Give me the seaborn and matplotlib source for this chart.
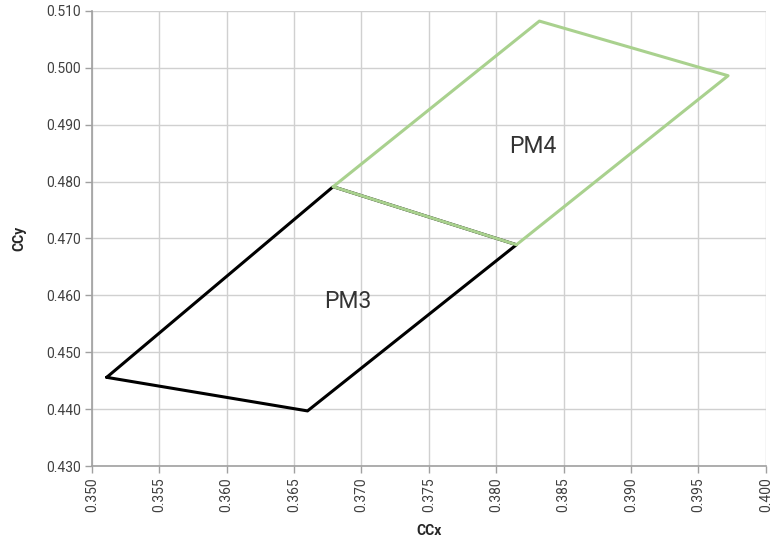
import pandas as pd
import matplotlib.pyplot as plt
import seaborn as sns

# Polygon corner points (closed loops)
pm3_x = [0.3511, 0.3660, 0.3815, 0.3679, 0.3511]
pm3_y = [0.4456, 0.4397, 0.4689, 0.4791, 0.4456]
pm4_x = [0.3679, 0.3832, 0.3972, 0.3815, 0.3679]
pm4_y = [0.4791, 0.5082, 0.4986, 0.4689, 0.4791]

x_ticks = [0.350, 0.355, 0.360, 0.365, 0.370, 0.375, 0.380, 0.385, 0.390, 0.395, 0.400]
y_ticks = [0.430, 0.440, 0.450, 0.460, 0.470, 0.480, 0.490, 0.500, 0.510]

sns.set_style("white")
plt.rcParams["font.family"] = ["Roboto", "DejaVu Sans"]

fig, ax = plt.subplots(figsize=(7.72, 5.42), dpi=100)
fig.subplots_adjust(left=0.119, right=0.992, top=0.98, bottom=0.14)

pm3 = pd.DataFrame({"x": pm3_x, "y": pm3_y})
pm4 = pd.DataFrame({"x": pm4_x, "y": pm4_y})

sns.lineplot(data=pm3, x="x", y="y", sort=False, estimator=None, color="black", linewidth=2.2, ax=ax)
sns.lineplot(data=pm4, x="x", y="y", sort=False, estimator=None, color="#a9d18e", linewidth=2.2, ax=ax)

ax.text(0.3827, 0.4861, "PM4", fontsize=16.5, ha="center", va="center", color="#333333")
ax.text(0.3690, 0.4590, "PM3", fontsize=16.5, ha="center", va="center", color="#333333")

ax.set_xlim(0.350, 0.400)
ax.set_ylim(0.430, 0.510)
ax.set_xticks(x_ticks)
ax.set_yticks(y_ticks)
ax.set_xticklabels([f"{t:.3f}" for t in x_ticks], rotation=90, fontsize=10, color="#404040")
ax.set_yticklabels([f"{t:.3f}" for t in y_ticks], fontsize=10, color="#404040")
ax.tick_params(axis="both", length=5, width=1, color="#a0a0a0", direction="out", pad=3)
ax.tick_params(left=True, bottom=True)

ax.grid(True, color="#d0d0d0", linewidth=1)
ax.set_axisbelow(True)
for side in ["top", "right"]:
    ax.spines[side].set_visible(False)
for side in ["left", "bottom"]:
    ax.spines[side].set_color("#a0a0a0")
    ax.spines[side].set_linewidth(1.2)

ax.set_xlabel("CCx", fontsize=10, fontweight="bold", labelpad=9)
ax.set_ylabel("CCy", fontsize=10, fontweight="bold", labelpad=14)

fig.savefig("out.png", dpi=100)
